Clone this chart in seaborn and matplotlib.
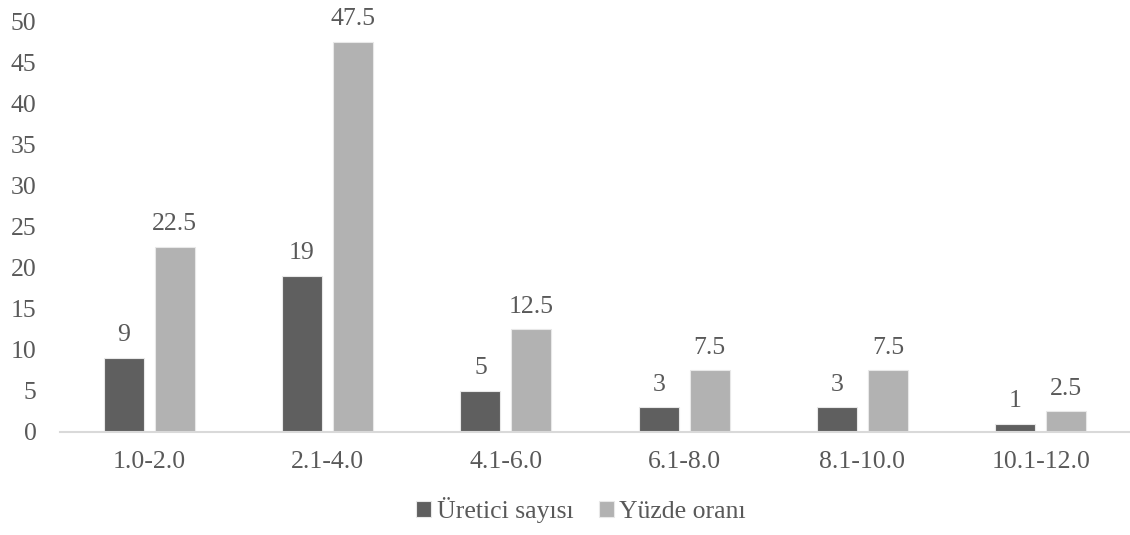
import matplotlib
matplotlib.use("Agg")
import matplotlib.pyplot as plt
import seaborn as sns
import pandas as pd

# Farm size classes (ha) and the two series
categories = ["1.0-2.0", "2.1-4.0", "4.1-6.0", "6.1-8.0", "8.1-10.0", "10.1-12.0"]
producer_counts = [9, 19, 5, 3, 3, 1]
percent_shares = [22.5, 47.5, 12.5, 7.5, 7.5, 2.5]
series_names = ["Üretici sayısı", "Yüzde oranı"]
y_ticks = [0, 5, 10, 15, 20, 25, 30, 35, 40, 45, 50]

df = pd.DataFrame({
    "sinif": categories * 2,
    "deger": producer_counts + percent_shares,
    "seri": [series_names[0]] * len(categories) + [series_names[1]] * len(categories),
})

sns.set_theme(style="white")
plt.rcParams["font.family"] = ["Liberation Serif", "DejaVu Serif"]

text_color = "#595959"
palette = {series_names[0]: "#5f5f5f", series_names[1]: "#b2b2b2"}

fig = plt.figure(figsize=(11.3, 5.35), dpi=100)
ax = fig.add_axes([60 / 1130, 1 - 432 / 535, 1 - 60 / 1130, (432 - 21.5) / 535])

sns.barplot(data=df, x="sinif", y="deger", hue="seri", order=categories,
            hue_order=series_names, palette=palette, width=0.571, gap=0.216,
            saturation=1, edgecolor="#e8e8e8", linewidth=0.8, ax=ax, legend=True)

for container in ax.containers:
    ax.bar_label(container, labels=[f"{v:g}" for v in container.datavalues],
                 padding=8.5, fontsize=18.5, color=text_color)

ax.set_ylim(0, 50)
ax.set_xlim(-0.5, len(categories) - 0.5)
ax.set_yticks(y_ticks)
ax.set_xlabel("")
ax.set_ylabel("")
ax.tick_params(axis="both", length=0, labelsize=18.5, colors=text_color)
ax.tick_params(axis="x", pad=14)
ax.tick_params(axis="y", pad=17)

for side in ["top", "right", "left"]:
    ax.spines[side].set_visible(False)
ax.spines["bottom"].set_color("#d9d9d9")
ax.spines["bottom"].set_linewidth(1.5)

handles, labels = ax.get_legend_handles_labels()
ax.legend(handles, labels, loc="center", bbox_to_anchor=(0.487, -0.19),
          ncol=2, frameon=False, fontsize=18.5, labelcolor=text_color,
          handlelength=0.6, handleheight=0.6, handletextpad=0.2, columnspacing=1.0)

fig.savefig("out.png", dpi=100)
